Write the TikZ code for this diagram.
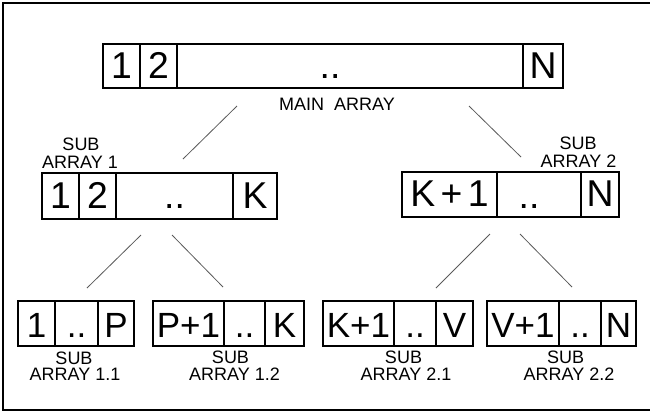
\documentclass[tikz,border=0pt]{standalone}
\usepackage{fontspec}
\setmainfont{Liberation Sans}
\begin{document}
\begin{tikzpicture}[x=0.75pt,y=-0.75pt,
  cell/.style={draw, line width=2pt, inner sep=0pt, text height=18pt, text depth=0pt,
               font=\fontsize{28}{28}\selectfont},
  smallcell/.style={cell, text height=20.25pt, font=\fontsize{26.25}{26.25}\selectfont},
  dots/.style={anchor=base, inner sep=0pt, font=\fontsize{28}{28}\selectfont},
  caption/.style={anchor=base, inner sep=0pt, font=\fontsize{13.5}{13.5}\selectfont},
  link/.style={draw=black!65, line width=0.6pt},
  frame/.style={draw, line width=1.4pt}]
\useasboundingbox (0,0) rectangle (650,412);
\clip (0,0) rectangle (650,412);

% cell: name, left, right, top, bottom, style, text
\newcommand\arrcell[7]{%
  \node[#6, minimum width={(#3-#2)*0.75pt}, minimum height={(#5-#4)*0.75pt}]
    (#1) at ({(#2+#3)/2},{(#4+#5)/2}) {#7};}

% outer frame (open on the right)
\draw[frame] (660,3) -- (3,3) -- (3,410) -- (660,410);

% main array
\arrcell{m1}{103}{140}{44}{88}{cell}{1}
\arrcell{m2}{140}{177}{44}{88}{cell}{2}
\arrcell{m3}{177}{523}{44}{88}{cell}{}
\arrcell{m4}{523}{563}{44}{88}{cell}{N}
\node[dots] (mdots) at (330,78) {..};
\node[caption] (mcap) at (337,110.5) {MAIN\ \ ARRAY};

% sub array 1
\arrcell{a1}{42}{79}{173}{219}{cell}{1}
\arrcell{a2}{79}{116}{173}{219}{cell}{2}
\arrcell{a3}{116}{233}{173}{219}{cell}{..}
\arrcell{a4}{233}{277}{173}{219}{cell}{K}
\node[caption] (acap1) at (81,150) {SUB};
\node[caption] (acap2) at (80,168) {ARRAY 1};

% sub array 2
\arrcell{b1}{402}{497}{172}{217}{cell}{K\kern4pt+\kern4pt1}
\arrcell{b2}{497}{581}{172}{217}{cell}{}
\arrcell{b3}{581}{619}{172}{217}{cell}{N}
\node[dots] (bdots) at (529,208) {..};
\node[caption] (bcap1) at (578,149.5) {SUB};
\node[caption] (bcap2) at (578.5,167.5) {ARRAY 2};

% sub array 1.1
\arrcell{c1}{18}{55}{301}{346}{smallcell}{1}
\arrcell{c2}{55}{98}{301}{346}{smallcell}{..}
\arrcell{c3}{98}{134}{301}{346}{smallcell}{P}
\node[caption] (ccap1) at (74,364) {SUB};
\node[caption] (ccap2) at (75,380.5) {ARRAY 1.1};

% sub array 1.2
\arrcell{d1}{153}{224}{301}{346}{smallcell}{P+1}
\arrcell{d2}{224}{265}{301}{346}{smallcell}{..}
\arrcell{d3}{265}{304}{301}{346}{smallcell}{K}
\node[caption] (dcap1) at (230.5,363.5) {SUB};
\node[caption] (dcap2) at (234.5,380) {ARRAY 1.2};

% sub array 2.1
\arrcell{e1}{323}{394}{301}{346}{smallcell}{K+1}
\arrcell{e2}{394}{436}{301}{346}{smallcell}{..}
\arrcell{e3}{436}{473}{301}{346}{smallcell}{V}
\node[caption] (ecap1) at (403.5,363.5) {SUB};
\node[caption] (ecap2) at (406,380) {ARRAY 2.1};

% sub array 2.2
\arrcell{f1}{487}{559}{301}{346}{smallcell}{V+1}
\arrcell{f2}{559}{601}{301}{346}{smallcell}{..}
\arrcell{f3}{601}{636}{301}{346}{smallcell}{N}
\node[caption] (fcap1) at (565.5,363.5) {SUB};
\node[caption] (fcap2) at (569,380) {ARRAY 2.2};

% split lines
\coordinate (mL) at (237,106);  \coordinate (aT) at (183,159);
\coordinate (mR) at (469,106);  \coordinate (bT) at (521,157);
\coordinate (aL) at (141,235);  \coordinate (cT) at (87,288);
\coordinate (aR) at (172,235);  \coordinate (dT) at (223,287);
\coordinate (bL) at (490,234);  \coordinate (eT) at (436,288);
\coordinate (bR) at (520,234);  \coordinate (fT) at (572,287);
\draw[link] (mL) -- (aT);
\draw[link] (mR) -- (bT);
\draw[link] (aL) -- (cT);
\draw[link] (aR) -- (dT);
\draw[link] (bL) -- (eT);
\draw[link] (bR) -- (fT);
\end{tikzpicture}
\end{document}
